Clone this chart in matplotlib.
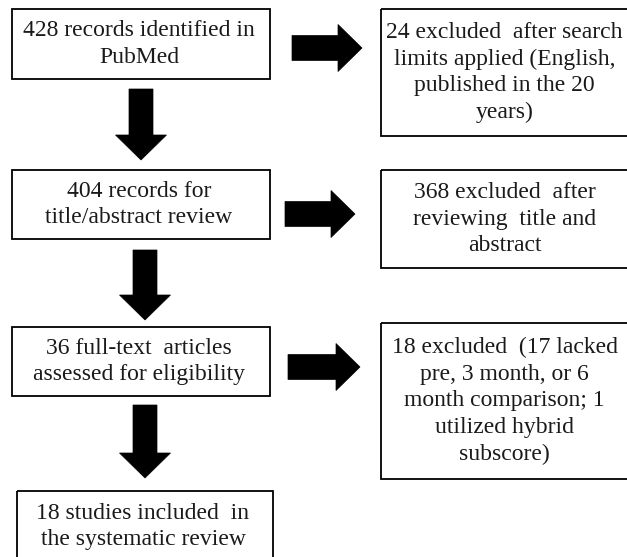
import matplotlib.pyplot as plt
from matplotlib.patches import Rectangle, Polygon

# Flow chart text
left_texts = [
    "428 records identified in\nPubMed",
    "404 records for\ntitle/abstract review",
    "36 full-text  articles\nassessed for eligibility",
    "18 studies included  in\nthe systematic review",
]
right_texts = [
    "24 excluded  after search\nlimits applied (English,\npublished in the 20\nyears)",
    "368 excluded  after\nreviewing  title and\nabstract",
    "18 excluded  (17 lacked\npre, 3 month, or 6\nmonth comparison; 1\nutilized hybrid\nsubscore)",
]

# box layout in pixels: (x0, y0, x1, y1)
left_boxes = [(12, 9, 270, 79), (12, 170, 270, 239), (12, 327, 270, 396), (17, 491, 273, 562)]
right_boxes = [(381, 9, 632, 136), (381, 170, 632, 268), (381, 323, 632, 479)]
right_arrow_x = [(292, 362), (285, 355), (288, 360)]
right_arrow_y = [48, 214, 367]
down_arrows = [(141, 89, 160), (145, 250, 320), (145, 405, 478)]

fig = plt.figure(figsize=(6.27, 5.57), dpi=100)
ax = fig.add_axes([0, 0, 1, 1])
ax.set_xlim(0, 627)
ax.set_ylim(557, 0)
ax.axis('off')

font = dict(family=['Liberation Serif', 'DejaVu Serif'], fontsize=17, ha='center', va='center',
            linespacing=1.36, color='#1a1a1a')


def box(b, text, dy=0):
    x0, y0, x1, y1 = b
    ax.add_patch(Rectangle((x0, y0), x1 - x0, y1 - y0, fill=False, ec='black', lw=1.3))
    ax.text((x0 + x1) / 2 - 2, (y0 + y1) / 2 + dy, text, **font)


for b, t in zip(left_boxes, left_texts):
    box(b, t)
for b, t in zip(right_boxes, right_texts):
    box(b, t)

# thick block arrows
for (xa, xb), yc in zip(right_arrow_x, right_arrow_y):
    head = 24
    pts = [(xa, yc - 12.5), (xb - head, yc - 12.5), (xb - head, yc - 23.5), (xb, yc),
           (xb - head, yc + 23.5), (xb - head, yc + 12.5), (xa, yc + 12.5)]
    ax.add_patch(Polygon(pts, closed=True, fc='black', ec='black', lw=0.5))

for xc, ya, yb in down_arrows:
    head = 25
    pts = [(xc - 12, ya), (xc + 12, ya), (xc + 12, yb - head), (xc + 25.5, yb - head), (xc, yb),
           (xc - 25.5, yb - head), (xc - 12, yb - head)]
    ax.add_patch(Polygon(pts, closed=True, fc='black', ec='black', lw=0.5))

fig.savefig('out.png', dpi=100)
